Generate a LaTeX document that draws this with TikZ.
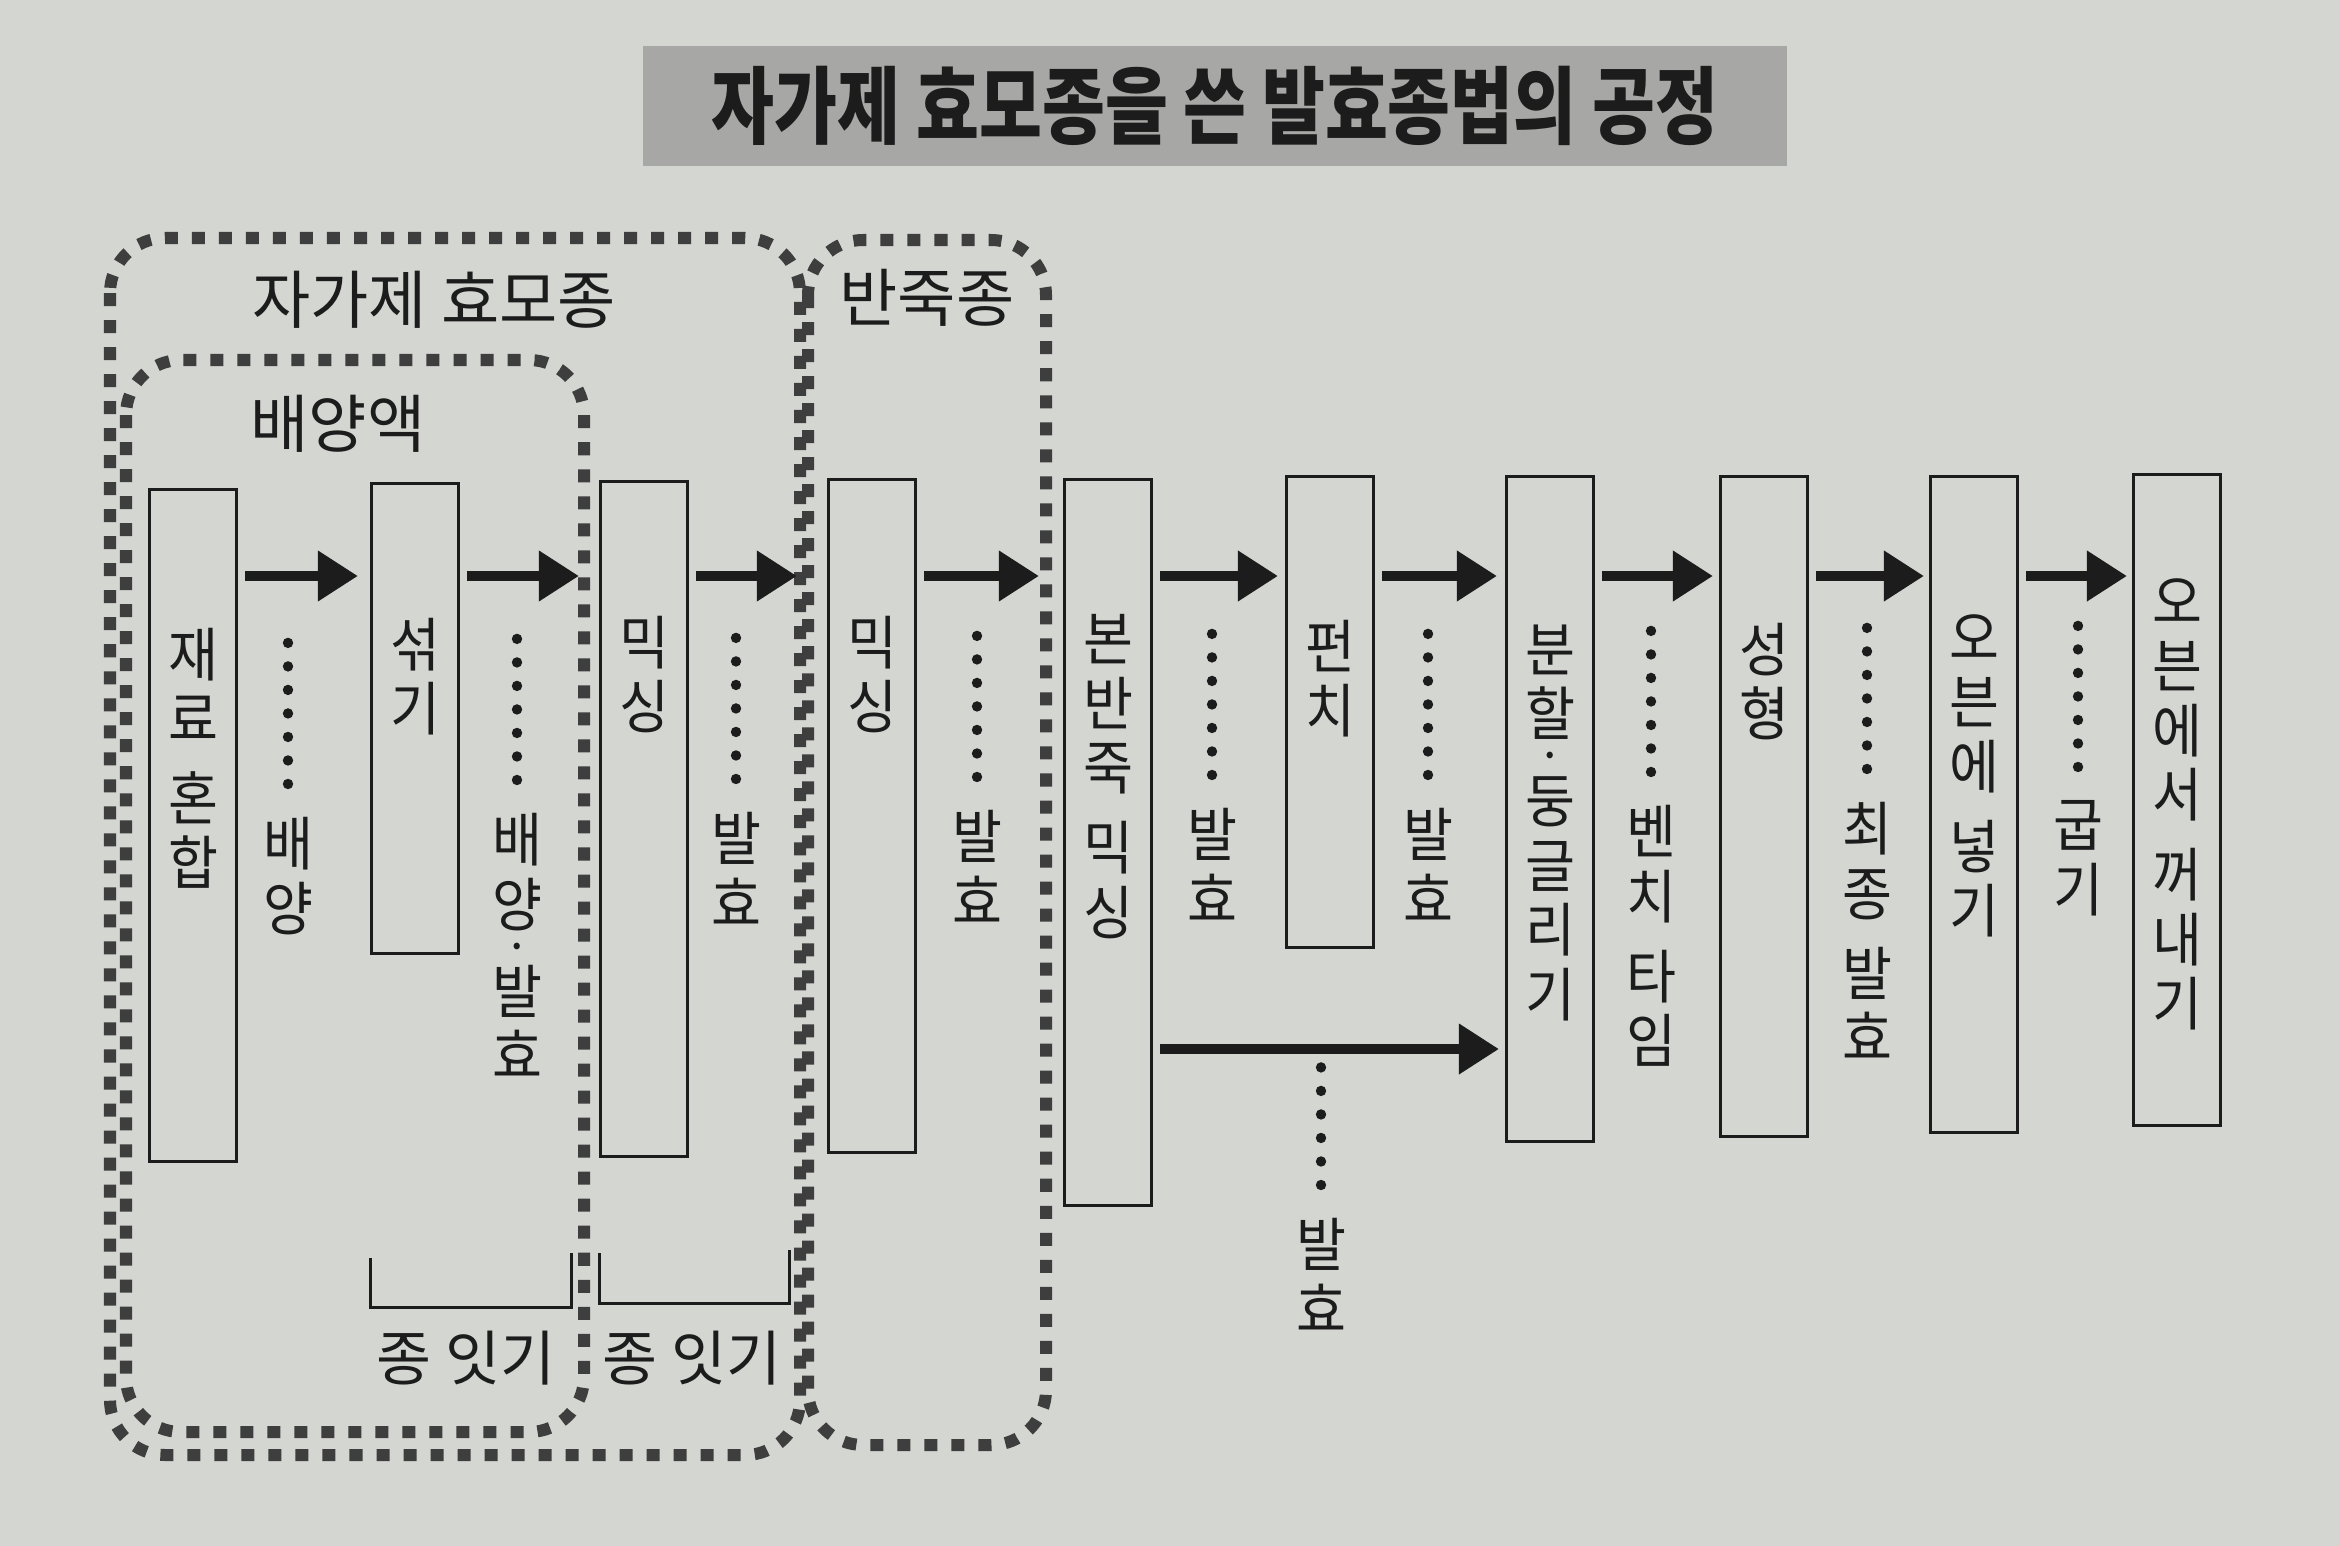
\documentclass[tikz,border=0pt]{standalone}
\usepackage{fontspec}
\newfontfamily\kr{Noto Sans CJK KR}
\newfontfamily\krv[FakeStretch=0.93]{Noto Sans CJK KR}
\newfontfamily\krtitle[FakeStretch=0.81]{Noto Sans CJK KR}
\usetikzlibrary{positioning}
\usetikzlibrary{arrows.meta}

\definecolor{paper}{HTML}{D4D6D2}
\definecolor{titlegray}{HTML}{A7A8A5}
\definecolor{dashgray}{HTML}{3E3E3E}
\definecolor{ink}{HTML}{1C1C1C}

% vertical column of leader dots above a label
\newcommand{\dotcol}[2]{%
  \foreach \k in {1,...,#2}
    {\fill[ink] ([yshift=(0.33+(\k-1)*0.235)*1cm]#1.north) circle (0.052cm);}}
% small middle dot inside a vertical label
\newcommand{\mdot}{{\fontsize{9pt}{9pt}\selectfont ・}}

\begin{document}
\begin{tikzpicture}[x=0.01cm,y=-0.01cm,
    stepbox/.style={draw=ink,line width=0.03cm,minimum width=0.87cm,inner sep=0pt,anchor=north},
    vtext/.style={font=\krv\fontsize{16.6pt}{18.3pt}\selectfont,align=center,inner sep=0pt,text=ink},
    grouptext/.style={font=\kr\fontsize{18pt}{20pt}\selectfont,inner sep=0pt,text=ink},
    jointext/.style={font=\kr\fontsize{17pt}{19pt}\selectfont,inner sep=0pt,text=ink},
    groupline/.style={draw=dashgray,line width=0.12cm,dash pattern=on 0.13cm off 0.14cm,rounded corners=0.55cm},
    flow/.style={draw=ink,line width=0.1cm,-{Triangle[length=0.4cm,width=0.48cm]},shorten <=0.07cm},
    bracketline/.style={draw=ink,line width=0.03cm}]
  \useasboundingbox (0,0) rectangle (2340,1546);
  \fill[paper] (0,0) rectangle (2340,1546);

  \node[fill=titlegray,minimum width=11.44cm,minimum height=1.19cm,inner sep=0pt,text=ink,
    font=\krtitle\bfseries\fontsize{24pt}{26pt}\selectfont] (title) at (1215,106)
    {자가제 효모종을 쓴 발효종법의 공정};

  % group frames
  \draw[groupline] (110,238) rectangle (800,1455);
  \draw[groupline] (126,360) rectangle (584,1432);
  \draw[groupline] (808,240) rectangle (1046,1445);
  \node[grouptext] (gA) at (434,300) {자가제 효모종};
  \node[grouptext] (gB) at (338,424) {배양액};
  \node[grouptext] (gC) at (927,298) {반죽종};

  % process steps
  \foreach \n/\cx/\ty/\h in {1/193/488/6.72,2/415/482/4.70,3/644/480/6.75,4/872/478/6.73,
      5/1108/478/7.26,6/1330/475/4.71,7/1550/475/6.65,8/1764/475/6.60,9/1974/475/6.56,10/2177/473/6.51}
    \node[stepbox,minimum height=\h cm] (b\n) at (\cx,\ty) {};

  \node[vtext,below=1.39cm of b1.north] (t1) {재\\료\\[4.5pt]혼\\합};
  \node[vtext,below=1.35cm of b2.north] (t2) {섞\\기};
  \node[vtext,below=1.35cm of b3.north] (t3) {믹\\싱};
  \node[vtext,below=1.37cm of b4.north] (t4) {믹\\싱};
  \node[vtext,below=1.36cm of b5.north] (t5) {본\\반\\죽\\[4.5pt]믹\\싱};
  \node[vtext,below=1.44cm of b6.north] (t6) {펀\\치};
  \node[vtext,below=1.49cm of b7.north] (t7) {분\\할\\[-9.2pt]\mdot\\[-2.6pt]둥\\글\\리\\기};
  \node[vtext,below=1.47cm of b8.north] (t8) {성\\형};
  \node[vtext,below=1.39cm of b9.north] (t9) {오\\븐\\에\\[4.5pt]넣\\기};
  \node[vtext,below=1.05cm of b10.north] (t10) {오\\븐\\에\\서\\[4.5pt]꺼\\내\\기};

  % connectors
  \coordinate (row) at (0,576);
  \coordinate (low) at (0,1049);
  \foreach \a/\b/\s in {1/2/0.12,2/3/0.2,3/4/0.3,4/5/0.24,5/6/0.07,6/7/0.08,7/8/0.06,8/9/0.05,9/10/0.05}
    \draw[flow,shorten >=\s cm] (b\a.east |- row) -- (b\b.west |- row);
  \draw[flow,shorten >=0.06cm] (b5.east |- low) -- (b7.west |- low);

  % what happens between steps
  \node[vtext,anchor=north] (g1) at (288,817) {배\\양};
  \node[vtext,anchor=north] (g2) at (517,813) {배\\양\\[-9.2pt]\mdot\\[-2.6pt]발\\효};
  \node[vtext,anchor=north] (g3) at (736,812) {발\\효};
  \node[vtext,anchor=north] (g4) at (977,810) {발\\효};
  \node[vtext,anchor=north] (g5) at (1212,808) {발\\효};
  \node[vtext,anchor=north] (g6) at (1428,808) {발\\효};
  \node[vtext,anchor=north] (g7) at (1651,805) {벤\\치\\[4.5pt]타\\임};
  \node[vtext,anchor=north] (g8) at (1867,802) {최\\종\\[4.5pt]발\\효};
  \node[vtext,anchor=north] (g9) at (2078,800) {굽\\기};
  \node[vtext,anchor=north] (gl) at (1321,1218) {발\\효};
  \foreach \g in {g1,g2,g3,g4,g5,g6,g7,g8,g9}
    {\dotcol{\g}{7}}
  \dotcol{gl}{6}

  % starter feeding brackets
  \draw[bracketline] (370,1258) |- (571,1307) -- (571,1253);
  \draw[bracketline] (599,1253) |- (789,1303) -- (789,1250);
  \node[jointext] (j1) at (466,1358) {종 잇기};
  \node[jointext] (j2) at (692,1358) {종 잇기};
\end{tikzpicture}
\end{document}
